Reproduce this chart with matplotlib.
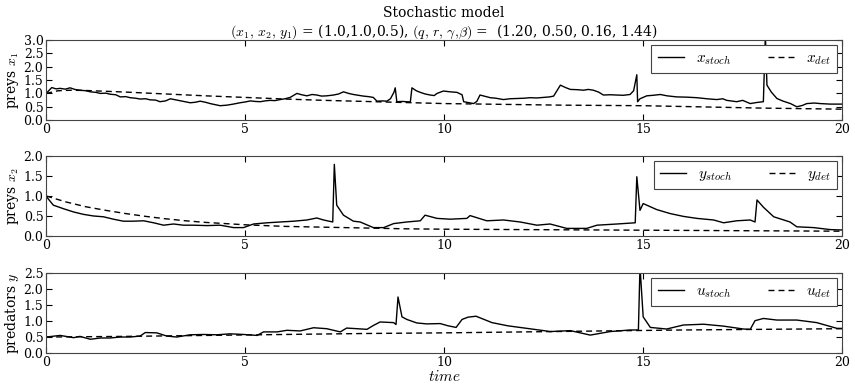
import matplotlib
matplotlib.use("Agg")
import matplotlib.pyplot as plt

plt.rcParams["font.family"] = "DejaVu Serif"
plt.rcParams["mathtext.fontset"] = "cm"

# time grid for deterministic curves
t_det = [0, 0.3, 0.6, 1, 2, 3, 4, 5, 6, 7, 8, 9, 10, 11, 12, 13, 14, 15, 16, 17, 18, 19, 20]
x1_det = [1.0, 1.1, 1.12, 1.11, 1.05, 0.98, 0.91, 0.85, 0.79, 0.74, 0.7, 0.66, 0.62,
          0.6, 0.58, 0.56, 0.55, 0.54, 0.51, 0.48, 0.45, 0.43, 0.41]

t_det2 = [0, 0.5, 1, 1.5, 2, 2.5, 3, 3.5, 4, 5, 6, 7, 8, 9, 10, 12, 14, 16, 18, 20]
x2_det = [1.0, 0.85, 0.73, 0.64, 0.56, 0.49, 0.43, 0.38, 0.34, 0.28, 0.24, 0.22, 0.2,
          0.18, 0.17, 0.16, 0.15, 0.14, 0.13, 0.12]

t_det3 = [0, 2, 4, 6, 8, 10, 12, 14, 16, 18, 20]
y_det = [0.5, 0.52, 0.55, 0.58, 0.61, 0.63, 0.66, 0.69, 0.72, 0.74, 0.76]

# stochastic trajectories
t_x1 = [0.00, 0.14, 0.25, 0.35, 0.48, 0.60, 0.72, 0.85, 1.00, 1.11, 1.25, 1.36, 1.50, 1.61,
        1.75, 1.86, 2.00, 2.11, 2.25, 2.36, 2.50, 2.61, 2.75, 2.86, 3.00, 3.12, 3.25, 3.37,
        3.50, 3.62, 3.75, 3.87, 4.00, 4.12, 4.25, 4.37, 4.54, 4.70, 4.87, 5.00, 5.13, 5.25,
        5.38, 5.50, 5.63, 5.75, 5.88, 6.00, 6.13, 6.30, 6.42, 6.55, 6.68, 6.80, 6.92, 7.05,
        7.22, 7.35, 7.47, 7.60, 7.72, 7.85, 7.97, 8.10, 8.22, 8.31, 8.45, 8.56, 8.65, 8.74,
        8.77, 8.81, 8.95, 9.06, 9.15, 9.19, 9.30, 9.40, 9.52, 9.65, 9.75, 9.82, 9.98, 10.15,
        10.32, 10.45, 10.49, 10.60, 10.74, 10.82, 10.90, 11.00, 11.16, 11.30, 11.49, 11.65,
        11.83, 12.00, 12.16, 12.33, 12.50, 12.65, 12.75, 12.92, 13.05, 13.17, 13.35, 13.50,
        13.62, 13.75, 13.88, 14.00, 14.17, 14.34, 14.50, 14.67, 14.76, 14.84, 14.86, 14.92,
        15.09, 15.25, 15.43, 15.60, 15.84, 16.10, 16.35, 16.60, 16.85, 17.00, 17.10, 17.35,
        17.50, 17.69, 17.85, 18.02, 18.07, 18.11, 18.22, 18.36, 18.50, 18.70, 18.86, 19.00,
        19.11, 19.30, 19.45, 19.70, 20.00]
x1_stoch = [1.00, 1.22, 1.17, 1.19, 1.16, 1.21, 1.15, 1.12, 1.10, 1.06, 1.04, 1.00, 1.01, 0.97,
            0.95, 0.87, 0.88, 0.84, 0.82, 0.79, 0.80, 0.76, 0.75, 0.69, 0.72, 0.80, 0.76, 0.72,
            0.68, 0.65, 0.67, 0.71, 0.67, 0.62, 0.58, 0.54, 0.56, 0.60, 0.65, 0.68, 0.72, 0.70,
            0.69, 0.72, 0.74, 0.73, 0.77, 0.80, 0.85, 1.00, 0.95, 0.91, 0.96, 0.94, 0.90, 0.91,
            0.94, 0.98, 1.06, 1.00, 0.96, 0.93, 0.90, 0.88, 0.85, 0.71, 0.72, 0.71, 0.80, 1.05,
            1.21, 0.69, 0.70, 0.69, 0.68, 1.21, 1.10, 1.04, 0.98, 0.94, 0.92, 1.00, 1.09, 1.06,
            1.04, 0.95, 0.69, 0.66, 0.62, 0.70, 0.94, 0.90, 0.84, 0.82, 0.77, 0.80,
            0.81, 0.82, 0.84, 0.83, 0.85, 0.87, 0.90, 1.31, 1.22, 1.15, 1.14, 1.12,
            1.15, 1.12, 1.05, 0.94, 0.95, 0.94, 0.93, 0.96, 1.10, 1.70, 0.69, 0.80,
            0.91, 0.93, 0.96, 0.91, 0.87, 0.86, 0.84, 0.80, 0.77, 0.80, 0.74, 0.69,
            0.74, 0.62, 0.66, 0.69, 3.20, 1.31, 1.05, 0.81, 0.72, 0.62, 0.50, 0.55,
            0.62, 0.64, 0.62, 0.60, 0.60]

t_x2 = [0.00, 0.18, 0.44, 0.69, 0.94, 1.19, 1.44, 1.69, 1.94, 2.19, 2.45, 2.70, 2.95, 3.20,
        3.45, 3.70, 4.04, 4.37, 4.71, 4.96, 5.21, 5.55, 5.88, 6.22, 6.55, 6.80, 6.97, 7.20,
        7.24, 7.30, 7.47, 7.72, 7.89, 8.22, 8.48, 8.73, 9.06, 9.40, 9.52, 9.82, 10.15, 10.57,
        10.65, 11.07, 11.49, 11.91, 12.33, 12.66, 13.08, 13.58, 13.84, 14.34, 14.80, 14.84,
        14.92, 15.00, 15.34, 15.68, 16.01, 16.35, 16.77, 17.02, 17.35, 17.69, 17.81, 17.86,
        18.02, 18.28, 18.69, 18.86, 19.28, 19.70, 20.00]
x2_stoch = [0.99, 0.77, 0.68, 0.60, 0.54, 0.50, 0.48, 0.42, 0.37, 0.37, 0.38, 0.33, 0.27, 0.30,
            0.27, 0.27, 0.26, 0.27, 0.21, 0.21, 0.30, 0.33, 0.35, 0.37, 0.40, 0.45, 0.40, 0.35,
            1.79, 0.77, 0.52, 0.37, 0.35, 0.21, 0.21, 0.31, 0.35, 0.38, 0.52, 0.44, 0.42, 0.44,
            0.51, 0.38, 0.40, 0.35, 0.27, 0.30, 0.19, 0.19, 0.27, 0.30, 0.33, 1.48,
            0.64, 0.81, 0.66, 0.56, 0.49, 0.44, 0.40, 0.33, 0.38, 0.40, 0.35, 0.90,
            0.72, 0.48, 0.35, 0.23, 0.21, 0.16, 0.15]

t_y = [0.00, 0.35, 0.69, 0.85, 1.11, 1.36, 1.61, 1.86, 2.11, 2.36, 2.49, 2.78, 3.03, 3.28,
       3.62, 3.95, 4.29, 4.62, 4.96, 5.30, 5.46, 5.80, 6.05, 6.38, 6.72, 7.05, 7.39, 7.55,
       7.81, 8.06, 8.22, 8.39, 8.73, 8.79, 8.84, 8.94, 9.06, 9.31, 9.56, 9.90, 10.10, 10.30,
       10.45, 10.60, 10.80, 11.00, 11.20, 11.40, 11.60, 11.90, 12.20, 12.50, 12.66, 13.17,
       13.67, 14.17, 14.67, 14.88, 14.92, 15.00, 15.18, 15.59, 16.01, 16.52, 17.02, 17.52,
       17.69, 17.81, 18.02, 18.36, 18.86, 19.36, 19.87, 20.00]
y_stoch = [0.50, 0.55, 0.48, 0.52, 0.43, 0.47, 0.47, 0.50, 0.50, 0.53, 0.64, 0.63, 0.53, 0.50,
           0.57, 0.58, 0.57, 0.60, 0.58, 0.55, 0.66, 0.66, 0.71, 0.69, 0.79, 0.76, 0.66, 0.78,
           0.76, 0.74, 0.86, 0.97, 0.95, 0.89, 1.75, 1.13, 1.05, 0.94, 0.91, 0.92, 0.85, 0.80,
           1.05, 1.12, 1.15, 1.05, 0.95, 0.90, 0.85, 0.80, 0.75, 0.70, 0.67, 0.70,
           0.56, 0.67, 0.72, 0.72, 2.70, 1.13, 0.80, 0.75, 0.875, 0.90, 0.84, 0.75,
           0.74, 1.01, 1.08, 1.03, 1.03, 0.95, 0.77, 0.77]

panels = [
    (t_x1, x1_stoch, t_det, x1_det, r"$x_{stoch}$", r"$x_{det}$", r"preys $x_1$", 3.0),
    (t_x2, x2_stoch, t_det2, x2_det, r"$y_{stoch}$", r"$y_{det}$", r"preys $x_2$", 2.0),
    (t_y, y_stoch, t_det3, y_det, r"$u_{stoch}$", r"$u_{det}$", r"predators $y$", 2.5),
]
bottoms = [0.688, 0.387, 0.083]

fig = plt.figure(figsize=(8.55, 3.85), dpi=100)
for i, (ts, ys, td, yd, lab_s, lab_d, ylab, ymax) in enumerate(panels):
    ax = fig.add_axes([0.054, bottoms[i], 0.931, 0.208])
    ax.plot(ts, ys, "k-", lw=1.0, label=lab_s)
    ax.plot(td, yd, "k--", lw=1.0, dashes=(4.3, 2.9), label=lab_d)
    ax.set_xlim(0, 20)
    ax.set_ylim(0, ymax)
    ax.set_xticks([0, 5, 10, 15, 20])
    ax.set_yticks([k * 0.5 for k in range(int(ymax / 0.5) + 1)])
    ax.set_yticklabels(["%.1f" % (k * 0.5) for k in range(int(ymax / 0.5) + 1)])
    ax.tick_params(direction="in", top=True, right=True, labelsize=9, length=4, pad=2)
    for s in ax.spines.values():
        s.set_color("#444444")
    ax.set_ylabel(ylab, fontsize=10, labelpad=2)
    leg = ax.legend(loc="upper right", ncol=2, fontsize=11, fancybox=False,
                    handlelength=1.7, columnspacing=2.4, borderaxespad=0.35,
                    edgecolor="#444444", framealpha=1)
    leg.get_frame().set_linewidth(0.8)
    if i == 0:
        ax.set_title("Stochastic model\n"
                     r"$(x_1,\,x_2,\,y_1)$ = (1.0,1.0,0.5), $(q,\,r,\,\gamma,\!\beta)$ =  (1.20, 0.50, 0.16, 1.44)",
                     fontsize=10, linespacing=1.2, pad=3)
    if i == 2:
        ax.set_xlabel(r"$time$", fontsize=11, labelpad=0)

fig.savefig("out.png", dpi=100)
